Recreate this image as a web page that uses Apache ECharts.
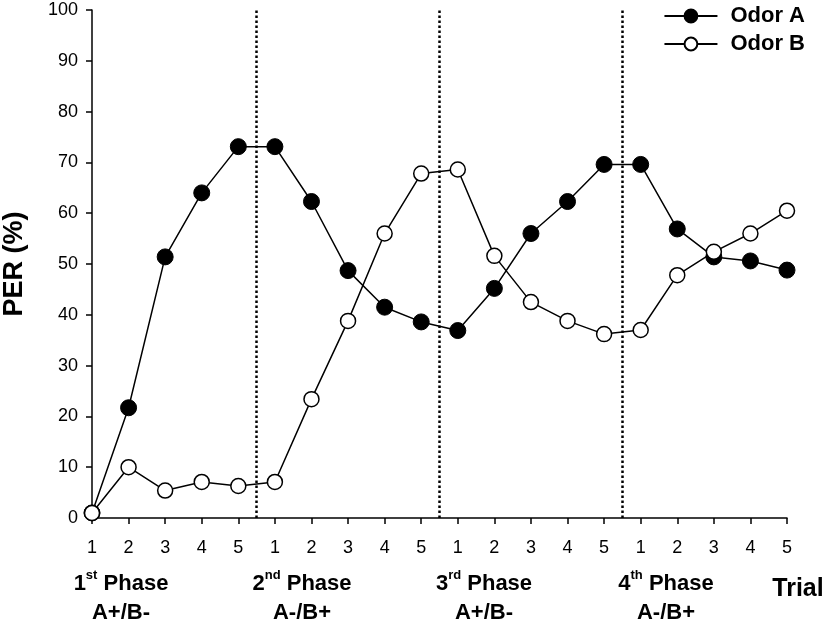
<!DOCTYPE html>
<html>
<head>
<meta charset="utf-8">
<script src="https://cdn.jsdelivr.net/npm/echarts@6/dist/echarts.min.js"></script>
<style>
  html, body { margin: 0; padding: 0; background: #fff; }
  #main { width: 826px; height: 622px; }
</style>
</head>
<body>
<div id="main"></div>
<script>
// trial number across the 4 phases (1..20), shown as 1-5 per phase
var trials = [1, 2, 3, 4, 5, 6, 7, 8, 9, 10, 11, 12, 13, 14, 15, 16, 17, 18, 19, 20];
var odorA = [1, 21.7, 51.4, 64.0, 73.1, 73.1, 62.3, 48.7, 41.5, 38.6, 36.9, 45.2, 56.0, 62.3, 69.6, 69.6, 56.9, 51.4, 50.6, 48.8];
var odorB = [1, 10.0, 5.4, 7.1, 6.3, 7.1, 23.4, 38.8, 56.0, 67.8, 68.6, 51.6, 42.5, 38.8, 36.2, 37.0, 47.8, 52.4, 56.0, 60.5];
var phaseBreaks = [5.5, 10.5, 15.5];
var phaseNums = ["1", "2", "3", "4"];
var phaseSups = ["st", "nd", "rd", "th"];
var phaseRules = ["A+/B-", "A-/B+", "A+/B-", "A-/B+"];

var font = "Liberation Sans";
var myChart = echarts.init(document.getElementById("main"));

function pairs(vals) {
  return trials.map(function (t, i) { return [t, vals[i]]; });
}

// phase labels under the axis
var phaseX = [121, 302, 484, 666];
var graphics = phaseNums.map(function (n, i) {
  return {
    type: "text",
    x: phaseX[i],
    y: 598,
    style: {
      text: "{b|" + n + "}{s|" + phaseSups[i] + "}{b| Phase}\n{b|" + phaseRules[i] + "}",
      align: "center",
      verticalAlign: "middle",
      rich: {
        b: { fontFamily: font, fontWeight: "bold", fontSize: 22, lineHeight: 29, fill: "#000" },
        s: { fontFamily: font, fontWeight: "bold", fontSize: 13, lineHeight: 29, verticalAlign: "top", padding: [0, 0, 10, 0], fill: "#000" }
      }
    }
  };
});
graphics.push({
  type: "text",
  x: 798,
  y: 589,
  style: {
    text: "Trial",
    align: "center",
    verticalAlign: "middle",
    fontFamily: font,
    fontWeight: "bold",
    fontSize: 25,
    fill: "#000"
  }
});

option = {
  animation: false,
  backgroundColor: "#fff",
  grid: {
    left: 92,
    right: 39,
    top: 10,
    bottom: 104,
    outerBoundsMode: "none"
  },
  legend: {
    orient: "vertical",
    right: 16,
    top: 0,
    itemWidth: 53,
    itemHeight: 16,
    itemGap: 6,
    textStyle: { fontFamily: font, fontWeight: "bold", fontSize: 22, color: "#000", padding: [0, 0, 0, 8] },
    data: ["Odor A", "Odor B"]
  },
  xAxis: {
    type: "value",
    min: 1,
    max: 20,
    interval: 1,
    splitLine: { show: false },
    axisLine: { lineStyle: { color: "#000", width: 1.5 } },
    axisTick: { length: 6, lineStyle: { color: "#000", width: 1.5 } },
    axisLabel: {
      margin: 21,
      color: "#000",
      fontFamily: font,
      fontSize: 18,
      formatter: function (v) { return ((v - 1) % 5) + 1; }
    }
  },
  yAxis: {
    type: "value",
    min: 0,
    max: 100,
    interval: 10,
    name: "PER (%)",
    nameLocation: "middle",
    nameGap: 64,
    nameTextStyle: { fontFamily: font, fontWeight: "bold", fontSize: 27, color: "#000" },
    splitLine: { show: false },
    axisLine: { show: true, lineStyle: { color: "#000", width: 1.5 } },
    axisTick: { show: true, length: 6, lineStyle: { color: "#000", width: 1.5 } },
    axisLabel: { margin: 14, color: "#000", fontFamily: font, fontSize: 18 }
  },
  graphic: graphics,
  series: [
    {
      name: "Odor A",
      type: "line",
      data: pairs(odorA),
      symbol: "circle",
      symbolSize: 16,
      z: 3,
      lineStyle: { color: "#000", width: 1.5 },
      itemStyle: { color: "#000", borderColor: "#000", borderWidth: 1 },
      markLine: {
        silent: true,
        symbol: "none",
        label: { show: false },
        lineStyle: { color: "#000", type: [2.5, 2.5], width: 2.5 },
        data: phaseBreaks.map(function (x) { return { xAxis: x }; })
      }
    },
    {
      name: "Odor B",
      type: "line",
      data: pairs(odorB),
      symbol: "circle",
      symbolSize: 15,
      z: 4,
      lineStyle: { color: "#000", width: 1.5 },
      itemStyle: { color: "#fff", borderColor: "#000", borderWidth: 1.5 }
    }
  ]
};
myChart.setOption(option);
</script>
</body>
</html>
